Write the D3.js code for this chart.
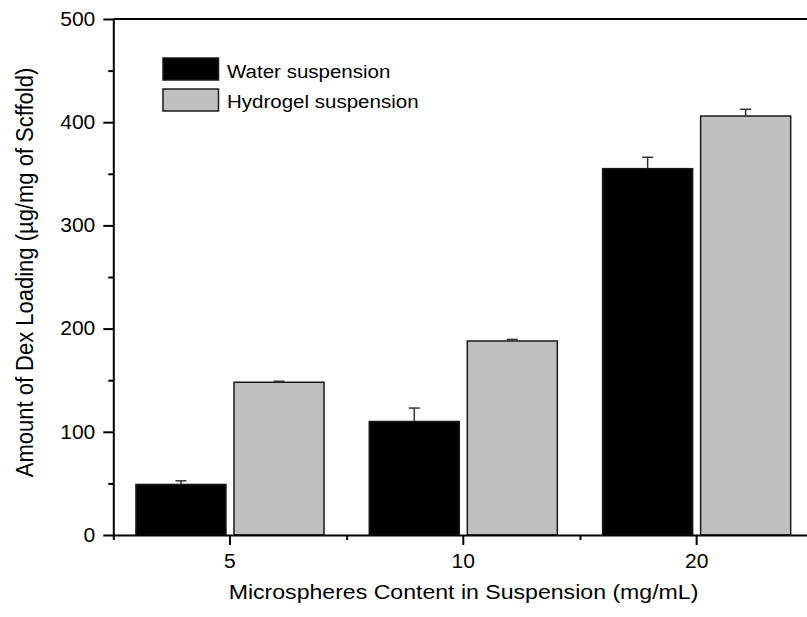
<!DOCTYPE html>
<html>
<head>
<meta charset="utf-8">
<script src="https://cdn.jsdelivr.net/npm/d3@7"></script>
<style>
  html, body { margin: 0; padding: 0; background: #fff; }
  svg { display: block; font-family: Arial, "Liberation Sans", sans-serif; }
</style>
</head>
<body>
<svg id="chart" width="807" height="617"></svg>
<script>
// Dex loading per scaffold, by microsphere content
const categories = ["5", "10", "20"];
const seriesNames = ["Water suspension", "Hydrogel suspension"];
const waterValues = [49, 110, 355];
const waterErrors = [3.5, 13, 11];
const hydrogelValues = [148, 188, 406];
const hydrogelErrors = [1, 1.5, 6.5];
const yTicks = [0, 100, 200, 300, 400, 500];
const yMinorTicks = [50, 150, 250, 350, 450];

const seriesColors = ["#000000", "#c0c0c0"];

const svg = d3.select("#chart");
const plotLeft = 113.3, plotRight = 813.3, plotTop = 19, plotBottom = 535;
const textStretch = 1.08;   // slightly wide lettering

const x = d3.scaleBand().domain(categories).range([plotLeft, plotRight])
  .paddingInner(0.194).paddingOuter(0.097);
const xSub = d3.scaleBand().domain(seriesNames).range([0, x.bandwidth()])
  .paddingInner(0.0816);
const y = d3.scaleLinear().domain([0, 500]).range([plotBottom, plotTop]);

const rows = categories.map((c, i) => ({
  cat: c,
  bars: [
    { name: seriesNames[0], value: waterValues[i], err: waterErrors[i], color: seriesColors[0] },
    { name: seriesNames[1], value: hydrogelValues[i], err: hydrogelErrors[i], color: seriesColors[1] }
  ]
}));

// bars
const groups = svg.append("g").selectAll("g").data(rows).join("g")
  .attr("transform", d => `translate(${x(d.cat)},0)`);

groups.selectAll("rect").data(d => d.bars).join("rect")
  .attr("x", d => xSub(d.name))
  .attr("y", d => y(d.value))
  .attr("width", xSub.bandwidth())
  .attr("height", d => y(0) - y(d.value))
  .attr("fill", d => d.color)
  .attr("stroke", "#1a1a1a")
  .attr("stroke-width", 1.5);

// upper error bars
const eb = groups.selectAll("g.err").data(d => d.bars).join("g").attr("class", "err");
eb.append("line")
  .attr("x1", d => xSub(d.name) + xSub.bandwidth() / 2)
  .attr("x2", d => xSub(d.name) + xSub.bandwidth() / 2)
  .attr("y1", d => y(d.value))
  .attr("y2", d => y(d.value + d.err))
  .attr("stroke", "#333").attr("stroke-width", 1.5);
eb.append("line")
  .attr("x1", d => xSub(d.name) + xSub.bandwidth() / 2 - 5.5)
  .attr("x2", d => xSub(d.name) + xSub.bandwidth() / 2 + 5.5)
  .attr("y1", d => y(d.value + d.err))
  .attr("y2", d => y(d.value + d.err))
  .attr("stroke", "#333").attr("stroke-width", 1.5);

// frame: top and right edges
svg.append("line").attr("x1", plotLeft).attr("x2", plotRight).attr("y1", plotTop).attr("y2", plotTop)
  .attr("stroke", "#000").attr("stroke-width", 2);
svg.append("line").attr("x1", plotRight).attr("x2", plotRight).attr("y1", plotTop).attr("y2", plotBottom)
  .attr("stroke", "#000").attr("stroke-width", 2);

// y axis
const yAxisG = svg.append("g").attr("transform", `translate(${plotLeft},0)`)
  .call(d3.axisLeft(y).tickValues(yTicks).tickSize(10).tickPadding(8).tickSizeOuter(0));
svg.append("g").attr("transform", `translate(${plotLeft},0)`)
  .call(d3.axisLeft(y).tickValues(yMinorTicks).tickSize(5).tickFormat("").tickSizeOuter(0))
  .call(g => g.select(".domain").remove());

// x axis
const xAxisG = svg.append("g").attr("transform", `translate(0,${plotBottom})`)
  .call(d3.axisBottom(x).tickSize(10).tickPadding(9).tickSizeOuter(0));
const xMid = d3.scaleLinear().domain([0, categories.length]).range([plotLeft, plotRight]);
svg.append("g").attr("transform", `translate(0,${plotBottom})`)
  .call(d3.axisBottom(xMid).tickValues([0, 1, 2, 3]).tickSize(5).tickFormat("").tickSizeOuter(0))
  .call(g => g.select(".domain").remove());

svg.selectAll(".domain").attr("stroke", "#000").attr("stroke-width", 2);
svg.selectAll(".tick line").attr("stroke", "#000").attr("stroke-width", 2);
svg.selectAll(".tick text").attr("font-size", 19.5).attr("fill", "#000")
  .attr("font-family", "Arial, 'Liberation Sans', sans-serif");
yAxisG.selectAll(".tick text")
  .attr("x", -18 / textStretch)
  .attr("transform", `scale(${textStretch},1)`);
xAxisG.selectAll(".tick text")
  .attr("transform", `scale(${textStretch},1)`);

// axis titles
svg.append("text")
  .attr("transform", `translate(463.5,599) scale(1.1,1)`)
  .attr("text-anchor", "middle").attr("font-size", 21).attr("fill", "#000")
  .text("Microspheres Content in Suspension (mg/mL)");
svg.append("text")
  .attr("transform", `translate(33,272.5) rotate(-90) scale(1,1.1)`)
  .attr("text-anchor", "middle").attr("font-size", 22).attr("fill", "#000")
  .text("Amount of Dex Loading (\u00b5g/mg of Scffold)");

// legend
const legend = svg.append("g").attr("transform", "translate(163,58)");
seriesNames.forEach((name, i) => {
  legend.append("rect")
    .attr("x", 0).attr("y", i * 31)
    .attr("width", 55.5).attr("height", 22)
    .attr("fill", seriesColors[i])
    .attr("stroke", "#1a1a1a").attr("stroke-width", 1.5);
  legend.append("text")
    .attr("transform", `translate(64,${i * 29.5 + 20.3}) scale(${textStretch},1)`)
    .attr("font-size", 19).attr("fill", "#000")
    .text(name);
});
</script>
</body>
</html>
